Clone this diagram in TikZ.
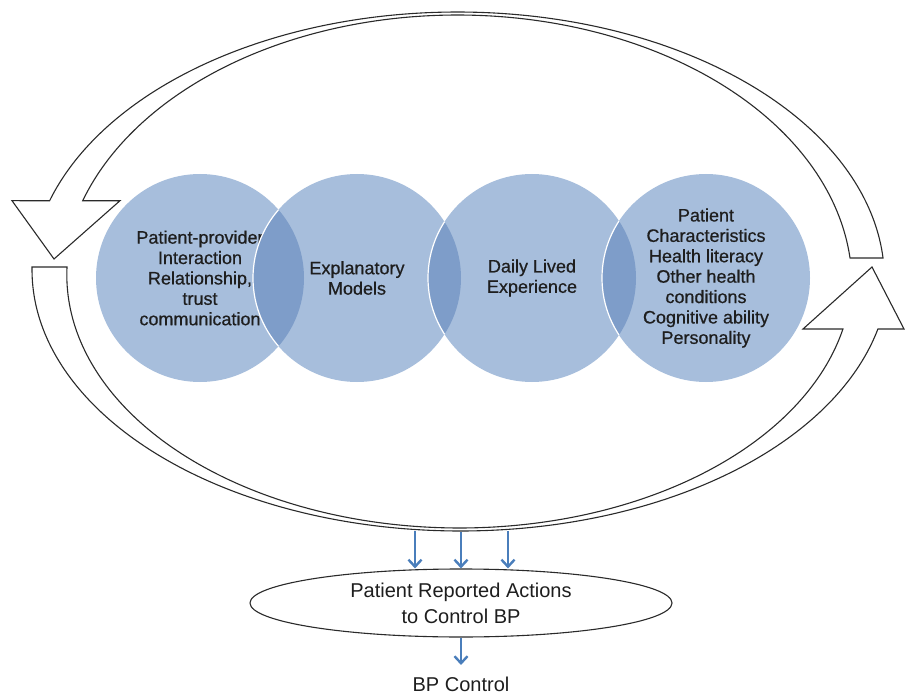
\documentclass[tikz,border=0pt]{standalone}
\usepackage{fontspec}
\setmainfont{Liberation Sans}
\newfontfamily\vennfont[FakeBold=0.6]{Liberation Sans}
\usetikzlibrary{arrows.meta,shapes.geometric}

\definecolor{venn}{HTML}{A7BEDC}
\definecolor{vennlens}{HTML}{7E9DC9}
\definecolor{flowblue}{HTML}{4A7EBB}
\definecolor{inkgray}{HTML}{2A2A2A}
\definecolor{textgray}{HTML}{1E1E1E}

\tikzset{
  loop/.style={draw=inkgray, line width=1.1pt, fill=white, line join=miter},
  vennbox/.style={circle, fill=venn, minimum size=208pt, inner sep=0pt,
    align=center, text=textgray, font=\vennfont\fontsize{18}{20.4}\selectfont},
  rim/.style={draw=white, line width=1.2pt},
  flow/.style={draw=flowblue, line width=2.4pt,
    -{Straight Barb[length=7pt,width=13pt,line width=2.4pt]}},
  actbox/.style={ellipse, draw=inkgray, line width=1.1pt, fill=white,
    minimum width=422pt, minimum height=68pt, inner sep=0pt, align=center,
    text=textgray, font=\fontsize{20}{26}\selectfont},
  plain/.style={text=textgray, font=\fontsize{20}{24}\selectfont}
}

\begin{document}
\begin{tikzpicture}[x=1pt, y=-1pt]
\useasboundingbox (0,0) rectangle (905,695);

% upper circular arrow: runs from the right side over the top, head at the left
\path[loop]
  plot[variable=\t, domain=-4.71:-162.79, samples=160]
    ({457.5+427*cos(\t)}, {280+268*sin(\t)})
  -- (12,200.7) -- (54,259) -- (120,200.7)
  -- plot[variable=\t, domain=-161.81:-5.74, samples=160]
    ({457.5+394.5*cos(\t)}, {285+270*sin(\t)})
  -- cycle;

% lower circular arrow: runs from the left side under the bottom, head at the right
\path[loop]
  plot[variable=\t, domain=180.66:13.07, samples=160]
    ({460.5+428.5*cos(\t)}, {270+261*sin(\t)})
  -- (904,329) -- (872,267) -- (803,329)
  -- plot[variable=\t, domain=12.32:181.81, samples=160]
    ({459.4+392.6*cos(\t)}, {275+253*sin(\t)})
  -- cycle;

% Venn row of four circles, each overlapping the next
\node[vennbox] (c1) at (200,278) {Patient-provider\\Interaction\\Relationship,\\trust\\communication};
\node[vennbox] (c2) at (357,278) {Explanatory\\Models};
\begin{scope}
  \clip (200,278) circle (104);
  \fill[vennlens] (357,278) circle (104);
\end{scope}
\node[vennbox] (c3) at (532,278) {Daily Lived\\Experience};
\begin{scope}
  \clip (357,278) circle (104);
  \fill[vennlens] (532,278) circle (104);
\end{scope}
\node[vennbox] (c4) at (706,278) {Patient\\Characteristics\\Health literacy\\Other health\\conditions\\Cognitive ability\\Personality};
\begin{scope}
  \clip (532,278) circle (104);
  \fill[vennlens] (706,278) circle (104);
\end{scope}
% white rims where a circle lies over its left neighbour
\begin{scope}
  \clip (200,278) circle (104);
  \draw[rim] (357,278) circle (104);
\end{scope}
\begin{scope}
  \clip (357,278) circle (104);
  \draw[rim] (532,278) circle (104);
\end{scope}
\begin{scope}
  \clip (532,278) circle (104);
  \draw[rim] (706,278) circle (104);
\end{scope}

% outcome boxes
\node[actbox] (act) at (461,603) {Patient Reported Actions\\to Control BP};
\node[plain, anchor=base] (bp) at (461,691) {BP Control};

% flows out of the loop
\coordinate (s1) at (415,531);
\coordinate (s2) at (461,532);
\coordinate (s3) at (508,531);
\draw[flow] (s1) -- (s1 |- act.north);
\draw[flow] (s2) -- (act.north);
\draw[flow] (s3) -- (s3 |- act.north);
\draw[flow, shorten >=8pt] (act.south) -- (bp.north);
\end{tikzpicture}
\end{document}
